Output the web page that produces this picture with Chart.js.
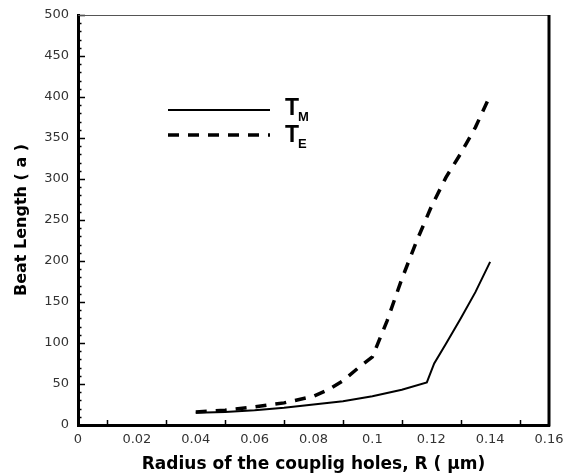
<!DOCTYPE html>
<html>
<head>
<meta charset="utf-8">
<script src="https://cdn.jsdelivr.net/npm/chart.js@4.4.1/dist/chart.umd.min.js"></script>
<style>
  html, body { margin: 0; padding: 0; background: #fff; }
  #wrap { width: 567px; height: 476px; }
</style>
</head>
<body>
<div id="wrap"><canvas id="c" width="567" height="476"></canvas></div>
<script>
// Beat length versus coupling-hole radius for the two polarisations
const radiusTM = [0.04, 0.05, 0.06, 0.07, 0.08, 0.09, 0.10, 0.11, 0.1185, 0.121, 0.125, 0.13, 0.135, 0.14];
const beatTM   = [15, 16, 18, 21, 25, 29, 35, 43, 52, 75, 99, 130, 162, 199];

const radiusTE = [0.04, 0.05, 0.06, 0.07, 0.08, 0.085, 0.09, 0.095, 0.10, 0.105, 0.11, 0.115, 0.12, 0.125, 0.13, 0.135, 0.14];
const beatTE   = [16, 18, 22, 27, 35, 43, 54, 69, 83, 127, 178, 224, 266, 302, 331, 363, 402];

const xTickValues = [0, 0.02, 0.04, 0.06, 0.08, 0.10, 0.12, 0.14, 0.16];
const xTickLabels = ['0', '0.02', '0.04', '0.06', '0.08', '0.1', '0.12', '0.14', '0.16'];
const xMinorTicks = [0.01, 0.03, 0.05, 0.07, 0.09, 0.11, 0.13, 0.15];
const yTickValues = [0, 50, 100, 150, 200, 250, 300, 350, 400, 450, 500];
const yMinorStep = 10;

const seriesNames = ['T', 'T'];
const seriesSubs = ['M', 'E'];

const tickFont = '"DejaVu Sans", sans-serif';
const titleFont = '"DejaVu Sans", sans-serif';

const toPoints = (xs, ys) => xs.map((x, i) => ({ x: x, y: ys[i] }));

// Inward tick marks, the closed frame and the line-sample legend
const framePlugin = {
  id: 'frameTicks',
  afterDatasetsDraw(chart) {
    const { ctx, chartArea: a, scales } = chart;
    const xs = scales.x, ys = scales.y;
    ctx.save();
    ctx.strokeStyle = '#000';
    ctx.lineWidth = 1.5;
    // y ticks: major every 50, minor every 10
    for (let v = 0; v <= 500; v += yMinorStep) {
      const py = Math.round(ys.getPixelForValue(v)) + 0.5;
      const len = (v % 50 === 0) ? 7 : 3.5;
      ctx.beginPath();
      ctx.moveTo(a.left, py);
      ctx.lineTo(a.left + len, py);
      ctx.stroke();
    }
    // x ticks
    xMinorTicks.forEach(v => {
      const px = Math.round(xs.getPixelForValue(v)) + 0.5;
      ctx.beginPath();
      ctx.moveTo(px, a.bottom);
      ctx.lineTo(px, a.bottom - 5);
      ctx.stroke();
    });
    // top edge (thin) and right edge (heavy)
    ctx.strokeStyle = '#555';
    ctx.lineWidth = 1;
    ctx.beginPath();
    ctx.moveTo(a.left, a.top + 0.5);
    ctx.lineTo(a.right, a.top + 0.5);
    ctx.stroke();
    ctx.strokeStyle = '#000';
    ctx.lineWidth = 3;
    ctx.beginPath();
    ctx.moveTo(a.right, a.top);
    ctx.lineTo(a.right, a.bottom + 1.5);
    ctx.stroke();

    // legend
    const rows = [
      { y: 110, dash: [], width: 2, base: 115 },
      { y: 135, dash: [11, 9], width: 3.5, base: 142 }
    ];
    rows.forEach((r, i) => {
      ctx.setLineDash(r.dash);
      ctx.lineWidth = r.width;
      ctx.beginPath();
      ctx.moveTo(168, r.y);
      ctx.lineTo(270, r.y);
      ctx.stroke();
      ctx.setLineDash([]);
      ctx.fillStyle = '#000';
      ctx.textAlign = 'left';
      ctx.textBaseline = 'alphabetic';
      ctx.font = 'bold 23px "Liberation Sans", Arial, sans-serif';
      ctx.fillText(seriesNames[i], 285, r.base);
      const w = ctx.measureText(seriesNames[i]).width;
      ctx.font = 'bold 13px "Liberation Sans", Arial, sans-serif';
      ctx.fillText(seriesSubs[i], 285 + w - 1, r.base + 6);
    });
    ctx.restore();
  }
};

new Chart(document.getElementById('c'), {
  type: 'scatter',
  data: {
    datasets: [
      {
        label: 'TM',
        data: toPoints(radiusTM, beatTM),
        showLine: true,
        borderColor: '#000',
        borderWidth: 2,
        pointRadius: 0,
        tension: 0,
        fill: false
      },
      {
        label: 'TE',
        data: toPoints(radiusTE, beatTE),
        showLine: true,
        borderColor: '#000',
        borderWidth: 3.5,
        borderDash: [11, 9],
        pointRadius: 0,
        tension: 0,
        fill: false
      }
    ]
  },
  options: {
    responsive: false,
    animation: false,
    events: [],
    layout: { padding: { top: 15, right: 18, left: 0, bottom: 0 } },
    plugins: {
      legend: { display: false },
      tooltip: { enabled: false }
    },
    scales: {
      x: {
        type: 'linear',
        min: 0,
        max: 0.16,
        afterBuildTicks(scale) {
          scale.ticks = xTickValues.map(v => ({ value: v }));
        },
        afterFit(scale) {
          scale.height = 51;
          scale.paddingLeft = 0;
          scale.paddingRight = 0;
        },
        grid: { display: false, drawTicks: false },
        border: { display: true, color: '#000', width: 3 },
        ticks: {
          padding: 7,
          color: '#333',
          font: { family: tickFont, size: 13 },
          maxRotation: 0,
          autoSkip: false,
          callback: (v, i) => xTickLabels[i]
        },
        title: {
          display: true,
          text: 'Radius of the couplig holes, R ( \u03bcm)',
          color: '#000',
          font: { family: titleFont, size: 17, weight: 'bold' },
          padding: { top: 0, bottom: 1 }
        }
      },
      y: {
        type: 'linear',
        min: 0,
        max: 500,
        afterBuildTicks(scale) {
          scale.ticks = yTickValues.map(v => ({ value: v }));
        },
        afterFit(scale) {
          scale.width = 78;
          scale.paddingTop = 0;
          scale.paddingBottom = 0;
        },
        grid: { display: false, drawTicks: false },
        border: { display: true, color: '#000', width: 3 },
        ticks: {
          padding: 9,
          color: '#333',
          font: { family: tickFont, size: 13 },
          autoSkip: false
        },
        title: {
          display: true,
          text: 'Beat Length ( a )',
          color: '#000',
          font: { family: titleFont, size: 16, weight: 'bold' },
          padding: { top: 12, bottom: 0 }
        }
      }
    }
  },
  plugins: [framePlugin]
});
</script>
</body>
</html>
